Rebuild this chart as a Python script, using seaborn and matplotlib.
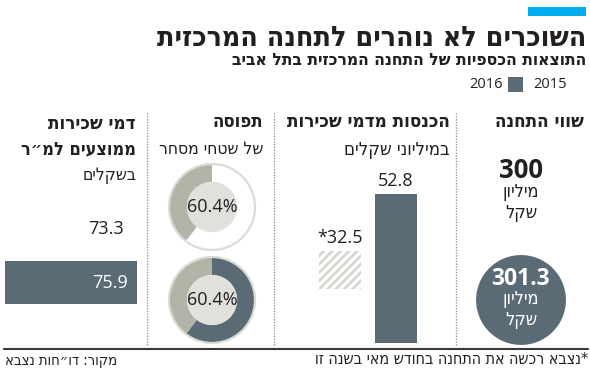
import re
import matplotlib
matplotlib.use("Agg")
import matplotlib.pyplot as plt
from matplotlib.patches import Circle, Rectangle
import seaborn as sns

# --- Data ---
years = ["2016", "2015"]
station_value = [300, 301.3]          # million NIS
rent_income = [32.5, 52.8]            # million NIS (2016 partial year*)
occupancy = [60.4, 60.4]              # % of commercial space
rent_per_sqm = [73.3, 75.9]           # NIS per sqm

title = "השוכרים לא נוהרים לתחנה המרכזית"
subtitle = "התוצאות הכספיות של התחנה המרכזית בתל אביב"
footnote = "*נצבא רכשה את התחנה בחודש מאי בשנה זו"
source = "מקור: דו״חות נצבא"

# --- Style ---
DARK = "#5b6b76"
GRAY = "#b3b3a8"
LIGHT = "#e0e0dc"
TXT = "#231f20"
HEB = dict(family=["DejaVu Sans"], fontstretch="condensed")
NUM = dict(family=["Open Sans", "DejaVu Sans"], fontstretch="normal")

sns.set_theme(style="white")
plt.rcParams["font.family"] = ["DejaVu Sans"]
plt.rcParams["hatch.linewidth"] = 2.0
plt.rcParams["hatch.color"] = "#d6d6d0"

W, H = 590, 375
fig = plt.figure(figsize=(W / 100, H / 100), dpi=100)
fig.patch.set_facecolor("white")


def heb(s):
    # matplotlib draws left to right: flip the Hebrew, keep numbers intact
    runs = re.findall(r"[0-9.,%]+|.", s)
    return "".join(reversed(runs))


def txt(x, y, s, size, ha="right", bold=False, color=TXT, num=False):
    fig.text(x / W, 1 - y / H, s if num else heb(s), fontsize=size, ha=ha, va="center",
             fontweight="bold" if bold else "normal", color=color,
             **(NUM if num else HEB))


def add_ax(x0, y0, x1, y1):
    ax = fig.add_axes([x0 / W, 1 - y1 / H, (x1 - x0) / W, (y1 - y0) / H])
    ax.set_facecolor("none")
    return ax


# --- Header ---
fig.add_artist(Rectangle((528 / W, 1 - 16 / H), 58 / W, 9 / H, transform=fig.transFigure,
                         color="#00aeef", lw=0))
txt(586, 38, title, 20.4, bold=True)
txt(586, 60, subtitle, 12.5, bold=True)
txt(567, 85, "2015", 10.5, num=True)
fig.add_artist(Rectangle((508 / W, 1 - 92 / H), 15 / W, 15 / H, transform=fig.transFigure,
                         color=DARK, lw=0))
txt(503, 85, "2016", 10.5, num=True)

# column separators
for xs in [147, 274, 456]:
    fig.add_artist(plt.Line2D([xs / W, xs / W], [1 - 113 / H, 1 - 345 / H],
                              transform=fig.transFigure, color="#9a9a9a", lw=1, ls=(0, (1, 1))))

# --- Panel 1: station value ---
txt(584, 122, "שווי התחנה", 13.5, bold=True)
ax1 = add_ax(470, 150, 574, 352)
for i, v in enumerate(station_value):
    filled = years[i] == "2015"
    if filled:
        ax1.add_patch(Circle((0, i), 0.42, color=DARK, lw=0))
    c = "white" if filled else TXT
    ax1.annotate(f"{v:g}", (0, i), xytext=(0, 21 if filled else 23), textcoords="offset pixels",
                 ha="center", va="center", fontsize=16.5 if filled else 18.5,
                 fontweight="bold", color=c, **NUM)
    ax1.annotate(heb("מיליון"), (0, i), xytext=(0, 1), textcoords="offset pixels",
                 ha="center", va="center", fontsize=13, color=c, **HEB)
    ax1.annotate(heb("שקל"), (0, i), xytext=(0, -20), textcoords="offset pixels",
                 ha="center", va="center", fontsize=13, color=c, **HEB)
ax1.set_xlim(-51 / 107, 53 / 107)
ax1.set_ylim(1 + 52 / 107, -43 / 107)
ax1.axis("off")

# --- Panel 2: rent income ---
txt(450, 122, "הכנסות מדמי שכירות", 13.5, bold=True)
txt(450, 150, "במיליוני שקלים", 13.2)
ax2 = add_ax(300, 170, 440, 343)
sns.barplot(x=years, y=rent_income, hue=years, palette=["white", DARK], legend=False,
            width=0.75, saturation=1, ax=ax2)
HATCH_DEPTH = 13.4
for cont, v in zip(ax2.containers, rent_income):
    for p in cont:
        p.set_linewidth(0)
    if v == rent_income[0]:
        p = cont[0]
        p.set_hatch("////")
        p.set_edgecolor("#d6d6d0")
        p.set_y(v - HATCH_DEPTH)
        p.set_height(HATCH_DEPTH)
for i, v in enumerate(rent_income):
    lab = f"*{v}" if i == 0 else f"{v}"
    ax2.annotate(lab, (i, v), xytext=(0, 13), textcoords="offset pixels",
                 ha="center", va="center", fontsize=13, color=TXT, **NUM)
ax2.set_xlim(-40 / 56, 100 / 56)
ax2.set_ylim(0, 173 / 2.822)
ax2.axis("off")

# --- Panel 3: occupancy donuts ---
txt(263, 122, "תפוסה", 13.3, bold=True)
txt(263, 149, "של שטחי מסחר", 12.5)
for (cy, yr), occ in zip([(207, "2016"), (300, "2015")], occupancy):
    ax3 = add_ax(212 - 46, cy - 46, 212 + 46, cy + 46)
    ring = DARK if yr == "2015" else "white"
    ax3.pie([occ, 100 - occ], colors=[ring, GRAY], startangle=90, counterclock=False,
            wedgeprops=dict(width=0.42, edgecolor="none"))
    ax3.add_patch(Circle((0, 0), 0.585, color=LIGHT, lw=0))
    ax3.add_patch(Circle((0, 0), 1.0, fill=False, edgecolor="#dcdcd6", lw=1.6))
    ax3.text(0, 0, f"{occ}%", ha="center", va="center", fontsize=13, color=TXT, **NUM)
    ax3.set_xlim(-1.07, 1.07)
    ax3.set_ylim(-1.07, 1.07)
    ax3.set_aspect("equal")
    ax3.axis("off")

# --- Panel 4: average rent per sqm ---
txt(136, 123, "דמי שכירות", 13.5, bold=True)
txt(136, 149, "ממוצעים למ״ר", 13, bold=True)
txt(136, 175, "בשקלים", 12.5)
ax4 = add_ax(5, 195, 140, 310)
sns.barplot(x=rent_per_sqm, y=years, hue=years, palette=["white", DARK], legend=False,
            orient="h", width=0.8, saturation=1, ax=ax4)
for p in ax4.patches:
    p.set_linewidth(0)
for i, v in enumerate(rent_per_sqm):
    ax4.annotate(f"{v}", (v, i), xytext=(-9, 0), textcoords="offset pixels",
                 ha="right", va="center", fontsize=13, **NUM,
                 color="white" if years[i] == "2015" else TXT)
ax4.set_xlim(0, 135 / 1.739)
ax4.set_ylim(1 + 27.5 / 53.5, -34 / 53.5)
ax4.axis("off")

# --- Footer ---
fig.add_artist(plt.Line2D([4 / W, 588 / W], [1 - 349 / H, 1 - 349 / H],
                          transform=fig.transFigure, color="#3a3a3a", lw=1.5))
txt(588, 360, footnote, 11.5)
txt(5, 360, source, 10.5, ha="left")

fig.savefig("out.png", dpi=100)
